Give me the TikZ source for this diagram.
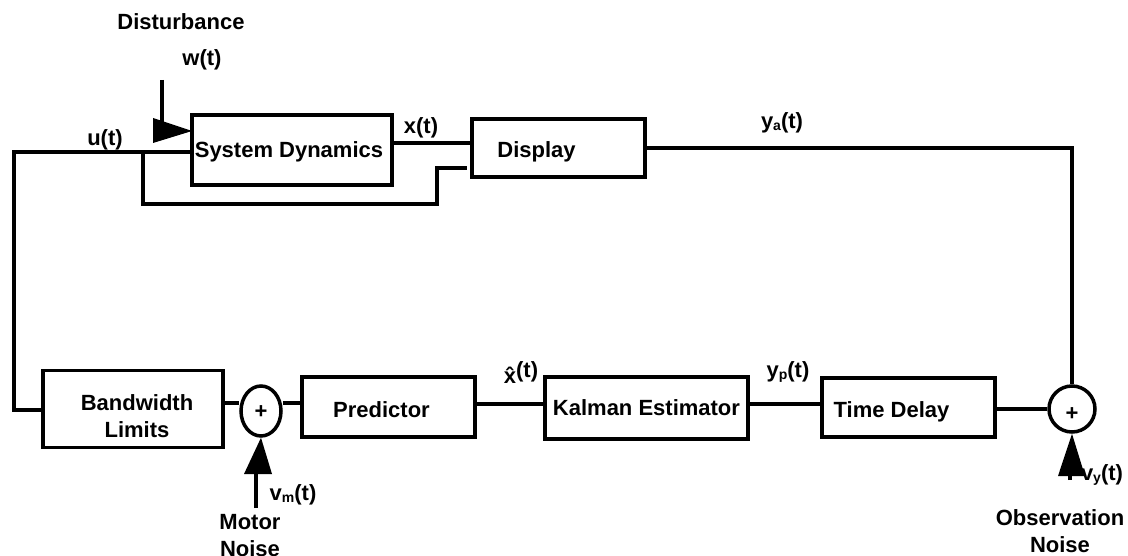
\documentclass[tikz,border=0pt]{standalone}
\usepackage{fontspec}
\setmainfont{Liberation Sans}
\usetikzlibrary{shapes.geometric}
\newcommand\lowsub[1]{\raisebox{-1.5pt}{\fontsize{14}{14}\selectfont #1}}
\tikzset{
  blk/.style={draw, line width=3.5pt, inner sep=0pt},
  wire/.style={line width=3.5pt},
  lbl/.style={font=\bfseries\fontsize{22}{27}\selectfont, inner sep=0pt, align=center},
  sumnode/.style={draw, ellipse, line width=3.5pt, inner sep=0pt},
  plus/.style={font=\bfseries\fontsize{22}{22}\selectfont, inner sep=0pt}
}
\begin{document}
\begin{tikzpicture}[x=1pt, y=-1pt]
\useasboundingbox (0,0) rectangle (1128,556);
% blocks
\node[blk, minimum width=200pt, minimum height=70pt,
  label={[lbl, xshift=-3pt, yshift=-2pt]center:System Dynamics}] (sd) at (292,150) {};
\node[blk, minimum width=173pt, minimum height=58pt,
  label={[lbl, xshift=-22pt, yshift=-4pt]center:Display}] (disp) at (558.5,148) {};
\node[blk, minimum width=180pt, minimum height=77pt,
  label={[lbl, xshift=4pt, yshift=-7.5pt]center:Bandwidth\\Limits}] (bw) at (133,409) {};
\node[blk, minimum width=173pt, minimum height=60pt,
  label={[lbl, xshift=-7pt, yshift=-3pt]center:Predictor}] (pred) at (388.5,407) {};
\node[blk, minimum width=203pt, minimum height=62pt,
  label={[lbl, xshift=0pt, yshift=0pt]center:Kalman Estimator}] (kal) at (646.5,408) {};
\node[blk, minimum width=173pt, minimum height=59pt,
  label={[lbl, xshift=-17pt, yshift=-4.5pt]center:Time Delay}] (td) at (908.5,407.5) {};
\node[sumnode, minimum width=40pt, minimum height=50pt,
  label={[plus, yshift=-1pt]center:+}] (s1) at (261,411) {};
\node[sumnode, minimum width=46pt, minimum height=46pt,
  label={[plus, yshift=-5pt]center:+}] (s2) at (1072,409) {};
% helper coordinates
\coordinate (lt) at (14,152);
\coordinate (lb) at (14,410);
\coordinate (j) at (143,152);
\coordinate (fb1) at (143,204);
\coordinate (fb2) at (437,204);
\coordinate (fb3) at (437,168);
\coordinate (fbend) at (467,168);
\coordinate (yx) at (0,143);
\coordinate (rc) at (1072,148);
\coordinate (r1) at (0,403);
\coordinate (r2) at (0,404);
% wires
\draw[wire] (sd.west |- lt) -- (lt) -- (lb) -- (bw.west |- lb);
\draw[wire] (j) -- (fb1) -- (fb2) -- (fb3) -- (fbend);
\draw[wire] (sd.east |- yx) -- (disp.west |- yx);
\draw[wire] (disp.east) -- (rc) -- (s2.north);
\draw[wire] (bw.east |- r1) -- (s1.west |- r1);
\draw[wire] (s1.east |- r1) -- (pred.west |- r1);
\draw[wire] (pred.east |- r2) -- (kal.west |- r2);
\draw[wire] (kal.east |- r2) -- (td.west |- r2);
\draw[wire] (td.east |- s2.west) -- (s2.west);
% disturbance input
\coordinate (wtop) at (162,80);
\coordinate (wbot) at (162,124);
\coordinate (wt1) at (153,118);
\coordinate (wt2) at (153,143);
\coordinate (wtip) at (192,131);
\draw[wire] (wtop) -- (wbot);
\fill (wt1) -- (wt2) -- (wtip) -- cycle;
% motor noise input
\coordinate (mn) at (256,508);
\coordinate (mb) at (256,472);
\coordinate (mt1) at (244,474);
\coordinate (mt2) at (272,474);
\draw[wire] (mn) -- (mb);
\fill (mt1) -- (mt2) -- (s1.south) -- cycle;
% observation noise input
\coordinate (on) at (1070,480);
\coordinate (ob) at (1070,472);
\coordinate (ot1) at (1058,476);
\coordinate (ot2) at (1085,476);
\draw[wire] (on) -- (ob);
\fill (ot1) -- (ot2) -- (s2.south) -- cycle;
% labels
\node[lbl] (tdist) at (181,22) {Disturbance};
\node[lbl] (tw) at (202,60) {w(t)};
\node[lbl] (tu) at (105,140) {u(t)};
\node[lbl] (tx) at (421,128) {x(t)};
\node[lbl] (tya) at (782,123) {y\lowsub{a}(t)};
\node[lbl] (txh) at (521,373) {\^{x}\raisebox{6pt}{(t)}};
\node[lbl] (typ) at (788,372) {y\lowsub{p}(t)};
\node[lbl] (tvm) at (293,495) {v\lowsub{m}(t)};
\node[lbl] (tmot) at (250,536) {Motor\\Noise};
\node[lbl] (tvy) at (1102,475) {v\lowsub{y}(t)};
\node[lbl] (tobs) at (1060,531) {Observation\\Noise};
\end{tikzpicture}
\end{document}
